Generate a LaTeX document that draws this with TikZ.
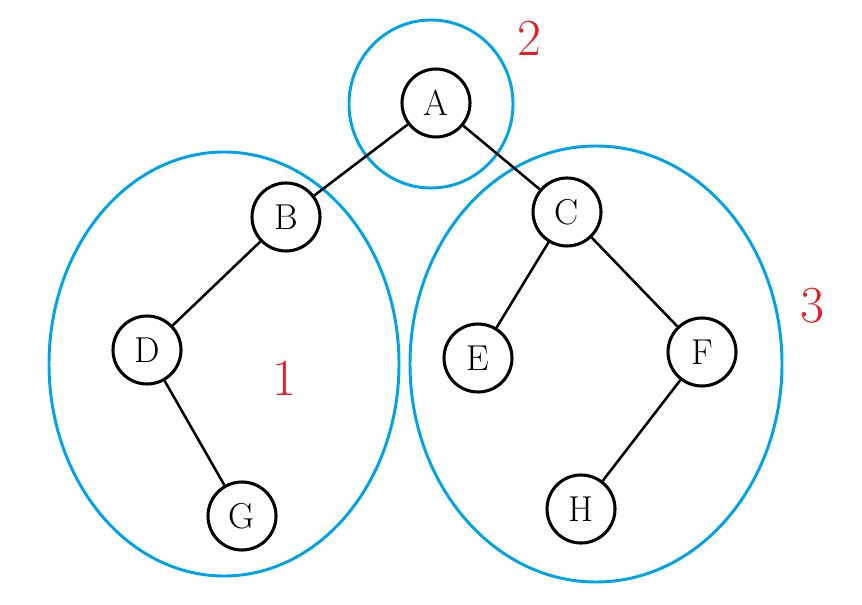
\documentclass[tikz,border=0pt]{standalone}
\usepackage{xcolor}
\usepackage{tikz}
\definecolor{PaintBlue}{RGB}{0,162,232}
\definecolor{PaintRed}{RGB}{237,28,36}

\begin{document}
\begin{tikzpicture}[x=.75pt,y=-.75pt]
  \tikzset{
    vert/.style={circle,draw=black,line width=2.3pt,minimum size=51pt,inner sep=0pt,
      font=\fontsize{27}{27}\selectfont},
    edge/.style={line width=1.9pt},
    part/.style={draw=PaintBlue,line width=2.2pt},
    tag/.style={text=PaintRed,font=\fontsize{39}{39}\selectfont}
  }
  \useasboundingbox (0,0) rectangle (862,605);

  % the three parts
  \draw[part] (224,364) ellipse [x radius=175,y radius=212];
  \draw[part] (431,104) ellipse [x radius=82,y radius=84];
  \draw[part] (596,364) ellipse [x radius=186,y radius=218];

  \node[vert] (A) at (436,103) {A};
  \node[vert] (B) at (286,217) {B};
  \node[vert] (C) at (567,212) {C};
  \node[vert] (D) at (147,350) {D};
  \node[vert] (E) at (478,358) {E};
  \node[vert] (F) at (702,352) {F};
  \node[vert] (G) at (242,516) {G};
  \node[vert] (H) at (581,509) {H};

  \draw[edge] (A) -- (B);
  \draw[edge] (A) -- (C);
  \draw[edge] (B) -- (D);
  \draw[edge] (D) -- (G);
  \draw[edge] (C) -- (E);
  \draw[edge] (C) -- (F);
  \draw[edge] (F) -- (H);

  \node[tag] (t1) at (284,378) {1};
  \node[tag] (t2) at (529,38) {2};
  \node[tag] (t3) at (812,306) {3};
\end{tikzpicture}
\end{document}
